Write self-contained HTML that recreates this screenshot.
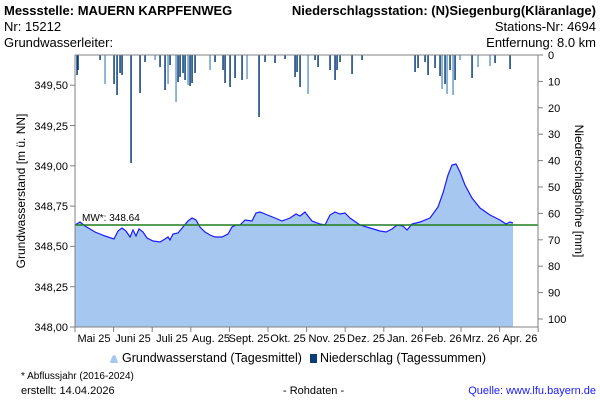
<!DOCTYPE html>
<html><head><meta charset="utf-8"><style>
body{margin:0;background:#fff;width:600px;height:400px;overflow:hidden;font-family:"Liberation Sans",sans-serif}
svg text{font-family:"Liberation Sans",sans-serif}
</style></head><body>
<svg width="600" height="400" viewBox="0 0 600 400" xmlns="http://www.w3.org/2000/svg">
<g font-size="13" fill="#000">
<text x="4" y="15" font-weight="bold">Messstelle: MAUERN KARPFENWEG</text>
<text x="596" y="15" font-weight="bold" text-anchor="end">Niederschlagsstation: (N)Siegenburg(Kläranlage)</text>
<text x="4" y="31">Nr: 15212</text>
<text x="596" y="31" text-anchor="end">Stations-Nr: 4694</text>
<text x="4" y="47">Grundwasserleiter:</text>
<text x="596" y="47" text-anchor="end">Entfernung: 8.0 km</text>
</g>
<polygon fill="#a6c8f0" points="75,327 75,225 80,222 85,226 95,232 105,236 114,239 118,231 122,228 126,231 130,237 133,230 136,236 139,229 143,232 147,238 153,241 160,242 165,239 168,237 170,240 173,234 178,233 183,227 188,221 192,218 196,220 200,227 205,232 210,235 215,237 222,237 228,234 232,227 236,225 240,225 245,220 252,221 256,213 260,212 265,214 275,218 282,221 290,218 296,214 300,216 305,212 308,216 312,221 320,224 325,225 330,215 335,212 340,214 345,213 350,218 360,225 370,228 380,231 386,232 392,229 397,225 403,226 407,230 412,224 420,222 430,218 438,207 443,193 448,175 452,165 456,164 460,172 465,185 472,198 480,208 490,215 500,220 506,224 510,222 513,223 513,327"/>
<polyline fill="none" stroke="#1a1aff" stroke-width="1.2" points="75,225 80,222 85,226 95,232 105,236 114,239 118,231 122,228 126,231 130,237 133,230 136,236 139,229 143,232 147,238 153,241 160,242 165,239 168,237 170,240 173,234 178,233 183,227 188,221 192,218 196,220 200,227 205,232 210,235 215,237 222,237 228,234 232,227 236,225 240,225 245,220 252,221 256,213 260,212 265,214 275,218 282,221 290,218 296,214 300,216 305,212 308,216 312,221 320,224 325,225 330,215 335,212 340,214 345,213 350,218 360,225 370,228 380,231 386,232 392,229 397,225 403,226 407,230 412,224 420,222 430,218 438,207 443,193 448,175 452,165 456,164 460,172 465,185 472,198 480,208 490,215 500,220 506,224 510,222 513,223"/>
<line x1="75" y1="225" x2="538" y2="225" stroke="#1e7d1e" stroke-width="1.5"/>
<text x="82" y="221" font-size="10">MW*: 348.64</text>
<g id="bars"></g>
<g stroke="#808080" fill="none">
<line x1="75" y1="55" x2="538" y2="55"/>
<line x1="75" y1="55" x2="75" y2="327"/>
<line x1="538" y1="55" x2="538" y2="327"/>
<line x1="75" y1="327" x2="538" y2="327"/>
</g>
<g id="ticks" stroke="#808080"></g>
<g font-size="11" fill="#000" text-anchor="end">
<text x="68" y="89">349,50</text>
<text x="68" y="130">349,25</text>
<text x="68" y="170">349,00</text>
<text x="68" y="210">348,75</text>
<text x="68" y="250">348,50</text>
<text x="68" y="291">348,25</text>
<text x="68" y="331">348,00</text>
</g>
<g font-size="11" fill="#000" id="rl"></g>
<g font-size="11" fill="#000" text-anchor="middle">
<text x="94" y="342">Mai 25</text><text x="133" y="342">Juni 25</text><text x="172" y="342">Juli 25</text><text x="211" y="342">Aug. 25</text><text x="249" y="342">Sept. 25</text><text x="288" y="342">Okt. 25</text><text x="327" y="342">Nov. 25</text><text x="366" y="342">Dez. 25</text><text x="405" y="342">Jan. 26</text><text x="443" y="342">Feb. 26</text><text x="481" y="342">Mrz. 26</text><text x="520" y="342">Apr. 26</text>
</g>
<text transform="translate(25,191) rotate(-90)" font-size="12" text-anchor="middle">Grundwasserstand [m ü. NN]</text>
<text transform="translate(575,191) rotate(90)" font-size="12" text-anchor="middle">Niederschlagshöhe [mm]</text>
<path d="M110,363 q2,-8 4,-8 q2,0 4,8 z" fill="#a6c8f0"/>
<text x="122" y="362" font-size="12.5">Grundwasserstand (Tagesmittel)</text>
<rect x="310" y="354" width="7" height="9" fill="#0a3d78"/>
<text x="320" y="362" font-size="12.5">Niederschlag (Tagessummen)</text>
<text x="21" y="379" font-size="10">* Abflussjahr (2016-2024)</text>
<text x="21" y="394" font-size="11">erstellt:  14.04.2026</text>
<text x="283" y="394" font-size="11">- Rohdaten -</text>
<text x="596" y="394" font-size="11" fill="#1a1aff" text-anchor="end">Quelle: www.lfu.bayern.de</text>
</svg>
<script>
var ns="http://www.w3.org/2000/svg";
var b=[[77,75,1],[78,70,1],[105,84,0],[114,84,1],[117,95,1],[120,73,1],[122,75,1],[131,163,1],[140,93,1],[145,62,1],[160,67,1],[165,90,1],[168,84,0],[170,65,1],[176,102,0],[178,82,1],[180,77,1],[183,73,1],[185,80,1],[188,85,0],[190,86,1],[192,83,1],[195,73,1],[210,70,0],[223,70,1],[225,83,1],[230,87,1],[235,78,1],[242,80,1],[247,79,0],[259,117,1],[265,62,1],[275,63,1],[295,77,1],[297,72,1],[300,87,1],[308,94,0],[315,60,1],[318,67,1],[330,70,1],[335,80,1],[337,70,1],[340,62,1],[352,74,1],[415,72,1],[418,68,1],[428,75,1],[435,68,1],[440,76,1],[442,89,0],[445,84,1],[447,94,0],[450,70,1],[453,95,0],[455,80,1],[472,78,1],[478,67,0],[490,66,0],[495,63,1],[510,69,1],[100,60,1],[155,60,0],[215,62,1],[285,59,1],[362,60,1],[425,62,1],[460,60,0]];
var g=document.getElementById("bars");
b.forEach(function(a){var r=document.createElementNS(ns,"rect");r.setAttribute("x",a[0]-0.7);r.setAttribute("y",55);r.setAttribute("width",1.5);r.setAttribute("height",a[1]-55);r.setAttribute("fill",a[2]?"#0a3d78":"#6d9cc9");g.appendChild(r);});
var t=document.getElementById("ticks");
function L(x1,y1,x2,y2){var l=document.createElementNS(ns,"line");l.setAttribute("x1",x1);l.setAttribute("y1",y1);l.setAttribute("x2",x2);l.setAttribute("y2",y2);t.appendChild(l);}
for(var i=0;i<=12;i++){var x=75+i*38.6;L(x,327,x,332);}
for(i=0;i<7;i++){var y=327-i*40.3;L(70,y,75,y);}
var rl=document.getElementById("rl");
for(i=0;i<=10;i++){var y=55+i*26.4;L(538,y,543,y);var tx=document.createElementNS(ns,"text");tx.setAttribute("x",548);tx.setAttribute("y",y+4);tx.textContent=i*10;rl.appendChild(tx);}
</script>
</body></html>
